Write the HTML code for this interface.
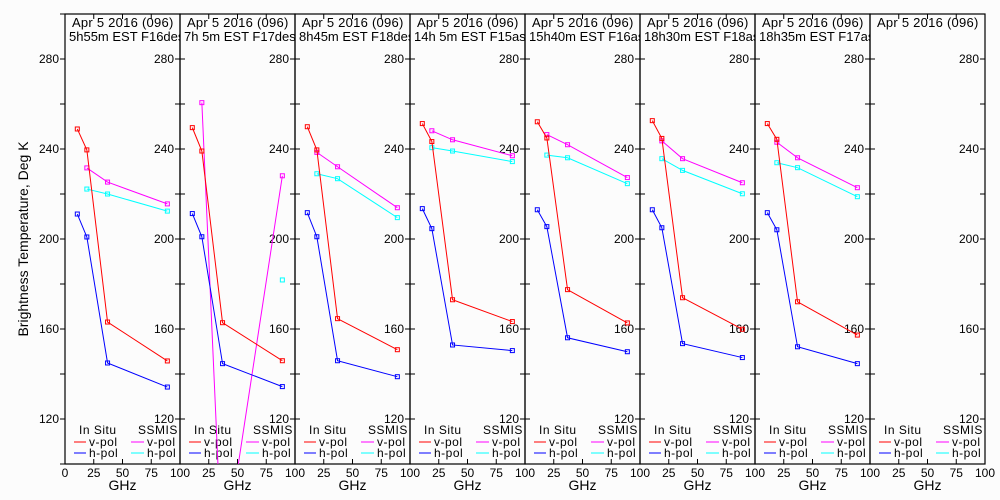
<!DOCTYPE html>
<html><head><meta charset="utf-8">
<style>
html,body{margin:0;padding:0;background:#fcfcfc;width:1000px;height:500px;overflow:hidden;}
svg{display:block;font-family:"Liberation Sans",sans-serif;}
</style></head>
<body>
<svg id="chart" width="1000" height="500" viewBox="0 0 1000 500">
<rect width="1000" height="500" fill="#fcfcfc"/>
<text x="28" y="239" font-size="14" text-anchor="middle" transform="rotate(-90 28 239)">Brightness Temperature, Deg K</text>
</svg>
<script>
const inSituFreq = [10.7, 19, 37, 89];
const ssmisFreq = [19, 37, 89];
const panelTimes = ["5h55m EST F16des","7h 5m EST F17des","8h45m EST F18des","14h 5m EST F15asc","15h40m EST F16asc","18h30m EST F18asc","18h35m EST F17asc",""];
const inSituV = [[248.9,239.6,163.1,145.8],[249.5,239.1,162.8,145.9],[249.9,239.6,164.6,150.8],[251.3,243.3,173.0,163.3],[252.1,244.9,177.5,162.7],[252.6,244.7,173.9,159.9],[251.3,244.3,172.1,157.3],null];
const inSituH = [[211.1,200.9,144.9,134.2],[211.3,201.0,144.6,134.4],[211.7,201.0,145.9,138.8],[213.5,204.6,152.9,150.4],[213.0,205.5,156.1,149.9],[213.0,205.0,153.5,147.3],[211.7,204.1,152.1,144.6],null];
const ssmisV = [[231.6,225.3,215.6],[260.6,54,228.1],[238.5,232.1,213.9],[248.1,244.1,237.0],[246.4,241.9,227.3],[243.6,235.7,225.0],[243.0,236.1,222.8],null];
const ssmisH = [[222.2,220.0,212.4],[null,null,181.8],[229.0,226.8,209.5],[240.6,239.1,234.4],[237.3,236.1,224.6],[235.7,230.5,220.1],[233.9,231.7,218.8],null];
const yTicksMajor = [120,160,200,240,280];
const yTicksMinor = [100,120,140,160,180,200,220,240,260,280,300];
const xTicks = [0,25,50,75,100];

const svg = document.getElementById('chart');
const NS = 'http://www.w3.org/2000/svg';
const P0 = 65, PW = 115, TOP = 14, BOT = 464, TMIN = 100, TMAX = 300;
function yS(t){ return BOT - (t - TMIN) * (BOT - TOP) / (TMAX - TMIN); }
function xS(p, g){ return P0 + p * PW + g * PW / 100; }
function mk(tag, attrs, parent){ const e = document.createElementNS(NS, tag); for (const k in attrs) e.setAttribute(k, attrs[k]); (parent || svg).appendChild(e); return e; }

const defs = mk('defs', {});
for (let p = 0; p < 8; p++) {
  const cp = mk('clipPath', {id: 'clip' + p}, defs);
  mk('rect', {x: xS(p,0), y: TOP, width: PW, height: BOT - TOP}, cp);
}

for (let p = 0; p < 8; p++) {
  const g = mk('g', {});
  
  
  const L = xS(p,0), R = xS(p,100);
  const frame = mk('rect', {x: L, y: TOP, width: PW, height: BOT - TOP, fill: 'none', stroke: '#000', 'stroke-width': 1.2}, g);
  
  
  yTicksMinor.forEach(t => {
    const y = yS(t);
    if (p === 0) mk('line', {x1: L - 5, x2: L, y1: y, y2: y, stroke: '#000'}, g);
    else mk('line', {x1: L, x2: L + 5, y1: y, y2: y, stroke: '#000'}, g);
    mk('line', {x1: R - 5, x2: R, y1: y, y2: y, stroke: '#000'}, g);
  });
  yTicksMajor.forEach(t => {
    const tx = mk('text', {x: R - 6, y: yS(t) + 4, 'font-size': 12, 'text-anchor': 'end'}, g);
    tx.textContent = t;
    
    
    if (p === 0) {
      const t2 = mk('text', {x: L - 6, y: yS(t) + 4, 'font-size': 12, 'text-anchor': 'end'}, g);
      t2.textContent = t;
      
      
    }
  });
  xTicks.forEach(v => {
    const x = xS(p, v);
    mk('line', {x1: x, x2: x, y1: BOT, y2: BOT - 5, stroke: '#000'}, g);
    mk('line', {x1: x, x2: x, y1: TOP, y2: TOP + 5, stroke: '#000'}, g);
    if (v === 0 && p > 0) return;
    const tx = mk('text', {x: x, y: BOT + 13, 'font-size': 12, 'text-anchor': 'middle'}, g);
    tx.textContent = v;
    
    
  });
  const gx = mk('text', {x: (L + R) / 2, y: 490, 'font-size': 14, 'text-anchor': 'middle'}, g);
  gx.textContent = 'GHz';
  
  
  const tg = mk('g', {'clip-path': 'url(#clip' + p + ')'}, g);
  const t1 = mk('text', {x: L + 7, y: 27, 'font-size': 13, 'letter-spacing': 0.25}, tg);
  t1.textContent = 'Apr 5 2016 (096)';
  
  
  const t2 = mk('text', {x: L + 4, y: 41, 'font-size': 13}, tg);
  t2.textContent = panelTimes[p];
  
  
  const lg = mk('g', {}, g);
  
  
  const a = mk('text', {x: L + 14, y: 434, 'font-size': 12, 'letter-spacing': 0.5}, lg); a.textContent = 'In Situ';
  const b = mk('text', {x: L + 73, y: 434, 'font-size': 12, 'letter-spacing': 0.5}, lg); b.textContent = 'SSMIS';
  [['v-pol','#f00','#f0f',446],['h-pol','#00f','#0ff',457]].forEach(r => {
    mk('line', {x1: L + 9, x2: L + 21, y1: r[3] - 4, y2: r[3] - 4, stroke: r[1]}, lg);
    const e1 = mk('text', {x: L + 24, y: r[3], 'font-size': 12, 'letter-spacing': 0.5}, lg); e1.textContent = r[0];
    mk('line', {x1: L + 66, x2: L + 79, y1: r[3] - 4, y2: r[3] - 4, stroke: r[2]}, lg);
    const e2 = mk('text', {x: L + 82, y: r[3], 'font-size': 12, 'letter-spacing': 0.5}, lg); e2.textContent = r[0];
  });
  const sg = mk('g', {'clip-path': 'url(#clip' + p + ')'}, g);
  const series = [[ssmisFreq, ssmisH[p], '#0ff', 'ssmis-h-pol'], [ssmisFreq, ssmisV[p], '#f0f', 'ssmis-v-pol'], [inSituFreq, inSituH[p], '#00f', 'insitu-h-pol'], [inSituFreq, inSituV[p], '#f00', 'insitu-v-pol']];
  series.forEach(s => {
    const vals = s[1];
    if (!vals) return;
    const pts = [];
    vals.forEach((v, i) => { if (v !== null) pts.push([xS(p, s[0][i]), yS(v)]); });
    if (pts.length > 1) {
      const pl = mk('polyline', {points: pts.map(q => q.join(',')).join(' '), fill: 'none', stroke: s[2], 'stroke-width': 1}, sg);
      
      
    }
    pts.forEach(q => {
      const r = mk('rect', {x: q[0] - 2, y: q[1] - 2, width: 4, height: 4, fill: 'none', stroke: s[2], 'stroke-width': 1}, sg);
      
      
    });
  });
}
</script>
</body></html>
